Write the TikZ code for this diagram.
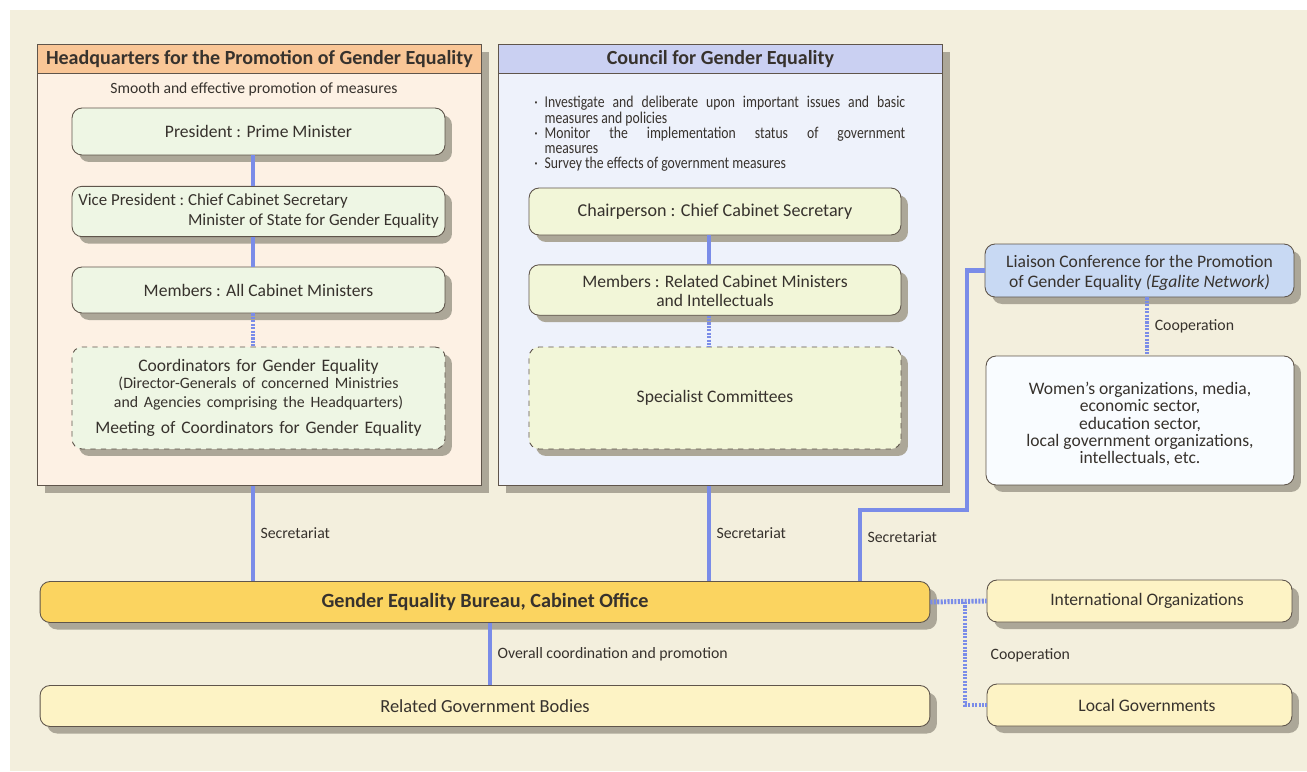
\documentclass[tikz,border=0pt]{standalone}
\usepackage{fontspec}
\setmainfont{Carlito}
\usetikzlibrary{shapes,arrows,positioning,calc,shadows}
\definecolor{bgbeige}{RGB}{243,239,221}
\definecolor{hqhead}{RGB}{249,198,150}
\definecolor{hqbody}{RGB}{253,241,228}
\definecolor{cohead}{RGB}{202,208,242}
\definecolor{cobody}{RGB}{238,242,251}
\definecolor{hqbox}{RGB}{238,246,228}
\definecolor{cobox}{RGB}{242,246,216}
\definecolor{bureaugold}{RGB}{251,212,96}
\definecolor{govyellow}{RGB}{253,243,197}
\definecolor{liaisonblue}{RGB}{200,217,243}
\definecolor{womenwhite}{RGB}{249,252,255}
\definecolor{linkblue}{RGB}{122,140,232}
\definecolor{edgegray}{RGB}{95,85,75}
\definecolor{shadowgray}{RGB}{172,167,152}
\definecolor{inkgray}{RGB}{55,50,45}

\begin{document}
\begin{tikzpicture}[x=0.02cm, y=-0.02cm, text=inkgray, font=\fontsize{10}{11}\selectfont]
\tikzstyle{shade} = [drop shadow={shadow xshift=0.14cm, shadow yshift=-0.14cm, fill=shadowgray, opacity=1}]
\tikzstyle{panel} = [rectangle, draw=edgegray, line width=0.5pt, anchor=north west, minimum width=8.88cm, minimum height=8.82cm, drop shadow={shadow xshift=0.16cm, shadow yshift=-0.16cm, fill=shadowgray, opacity=1}]
\tikzstyle{head} = [rectangle, draw=edgegray, line width=0.5pt, anchor=north west, minimum width=8.88cm, minimum height=0.56cm, font=\fontsize{11.4}{12}\selectfont\bfseries]
\tikzstyle{member} = [rectangle, draw=edgegray, line width=0.5pt, rounded corners=0.2cm, minimum width=7.46cm, minimum height=0.94cm, align=center, shade]
\tikzstyle{group} = [member, dashed, minimum height=2.04cm]
\tikzstyle{wide} = [member, minimum width=17.8cm, minimum height=0.82cm]
\tikzstyle{side} = [member, minimum width=6.1cm, minimum height=0.84cm]
\tikzstyle{link} = [draw=linkblue, line width=2.6pt]
\tikzstyle{dotlink} = [link, line width=2.8pt, dash pattern=on 1.2pt off 0.75pt]
\tikzstyle{linklabel} = [font=\fontsize{9}{10}\selectfont, anchor=west, inner sep=3pt]

\useasboundingbox (0,0) rectangle (1307,771);
\fill[white] (0,0) rectangle (1307,771);
\fill[bgbeige] (10,10) rectangle (1307,771);

\node [panel, fill=hqbody] (hq) at (37,44) {};
\node [head, fill=hqhead] (hqtitle) at (37,44) {Headquarters for the Promotion of Gender Equality};
\node [panel, fill=cobody] (council) at (498,44) {};
\node [head, fill=cohead] (cotitle) at (498,44) {Council for Gender Equality};

\node [font=\fontsize{8.9}{10}\selectfont] (hqnote) at (254,89) {Smooth and effective promotion of measures};
\node [member, fill=hqbox] (president) at (258.5,131.5) {President : Prime Minister};
\node [member, fill=hqbox, font=\fontsize{9.6}{11}\selectfont] (vice) at (258.5,211.5) {\begin{tabular}{@{}l@{}l@{}}\mbox{Vice President :\ }&Chief Cabinet Secretary\\&Minister of State for Gender Equality\end{tabular}};
\node [member, fill=hqbox, minimum height=0.92cm] (allmin) at (258.5,290) {Members : All Cabinet Ministers};
\node [group, fill=hqbox, text width=7.2cm] (coord) at (258.5,398) {Coordinators for Gender Equality\\[0pt]
{\fontsize{9}{9.6}\selectfont (Director-Generals of concerned Ministries\\ and Agencies comprising the Headquarters)}\\[4pt]
Meeting of Coordinators for Gender Equality};

\node [anchor=north west, text width=7.42cm, align=justify, inner sep=0pt, font=\fontsize{9.4}{8.7}\selectfont\addfontfeatures{FakeStretch=0.83}] (tasks) at (534,96) {%
\noindent\hangindent=1.3ex\hangafter=1\makebox[1.3ex][l]{·}Investigate and deliberate upon important issues and basic\linebreak measures and policies\par
\noindent\hangindent=1.3ex\hangafter=1\makebox[1.3ex][l]{·}Monitor the implementation status of government\linebreak measures\par
\noindent\hangindent=1.3ex\hangafter=1\makebox[1.3ex][l]{·}Survey the effects of government measures\par};
\node [member, fill=cobox, minimum width=7.44cm, font=\fontsize{10.3}{11}\selectfont] (chair) at (715,211.5) {Chairperson : Chief Cabinet Secretary};
\node [member, fill=cobox, minimum width=7.44cm, minimum height=0.92cm] (relmin) at (715,290) {\raisebox{-0.06cm}[\height][\depth]{\begin{tabular}{@{}c@{}}Members : Related Cabinet Ministers\\and Intellectuals\end{tabular}}};
\node [group, fill=cobox, minimum width=7.44cm] (specialist) at (715,398) {Specialist Committees};

\node [member, fill=liaisonblue, minimum width=6.18cm, minimum height=1.06cm] (liaison) at (1139.5,270.5) {\raisebox{-0.06cm}[\height][\depth]{\begin{tabular}{@{}c@{}}Liaison Conference for the Promotion\\of Gender Equality \textit{(Egalite Network)}\end{tabular}}};
\node [member, fill=womenwhite, minimum width=6.16cm, minimum height=2.58cm, font=\fontsize{10}{9.6}\selectfont] (women) at (1140,420.5) {\raisebox{-0.1cm}[\height][\depth]{\begin{tabular}{@{}c@{}}Women’s organizations, media,\\economic sector,\\education sector,\\local government organizations,\\intellectuals, etc.\end{tabular}}};

\node [wide, fill=bureaugold, font=\fontsize{11.5}{12}\selectfont\bfseries] (bureau) at (485,602) {Gender Equality Bureau, Cabinet Office};
\node [wide, fill=govyellow, font=\fontsize{10.5}{12}\selectfont] (bodies) at (485,706) {Related Government Bodies};
\node [side, fill=govyellow] (intl) at (1139.5,601) {\hspace*{0.3cm}International Organizations};
\node [side, fill=govyellow] (local) at (1139.5,705) {\hspace*{0.3cm}Local Governments};

\coordinate (hqx) at (253,0);
\coordinate (cox) at (709,0);
\coordinate (secx) at (860,0);
\coordinate (bend) at (967,510);
\coordinate (ovx) at (490,0);
\coordinate (coopx) at (965,0);
\coordinate (libx) at (1147,0);

\draw [link] (president.south -| hqx) -- (vice.north -| hqx);
\draw [link] (vice.south -| hqx) -- (allmin.north -| hqx);
\draw [dotlink] (allmin.south -| hqx) -- (coord.north -| hqx);
\draw [link] (chair.south -| cox) -- (relmin.north -| cox);
\draw [dotlink] (relmin.south -| cox) -- (specialist.north -| cox);
\draw [dotlink] (liaison.south -| libx) -- node [linklabel] {Cooperation} (women.north -| libx);

\draw [link] (hq.south -| hqx) -- node [linklabel] {Secretariat} (bureau.north -| hqx);
\draw [link] (council.south -| cox) -- node [linklabel] {Secretariat} (bureau.north -| cox);
\draw [link] (bureau.north -| secx) -- node [linklabel, pos=0.62] {Secretariat} (secx |- bend) -| (bend) |- (liaison.west);
\draw [link] (bureau.south -| ovx) -- node [linklabel] {Overall coordination and promotion} (bodies.north -| ovx);
\draw [dotlink] (bureau.east) -- (intl.west);
\draw [dotlink] (bureau.east -| coopx) |- (local.west);
\node [linklabel, font=\fontsize{9}{10}\selectfont] (cooplabel) at (985,655) {Cooperation};
\end{tikzpicture}
\end{document}
